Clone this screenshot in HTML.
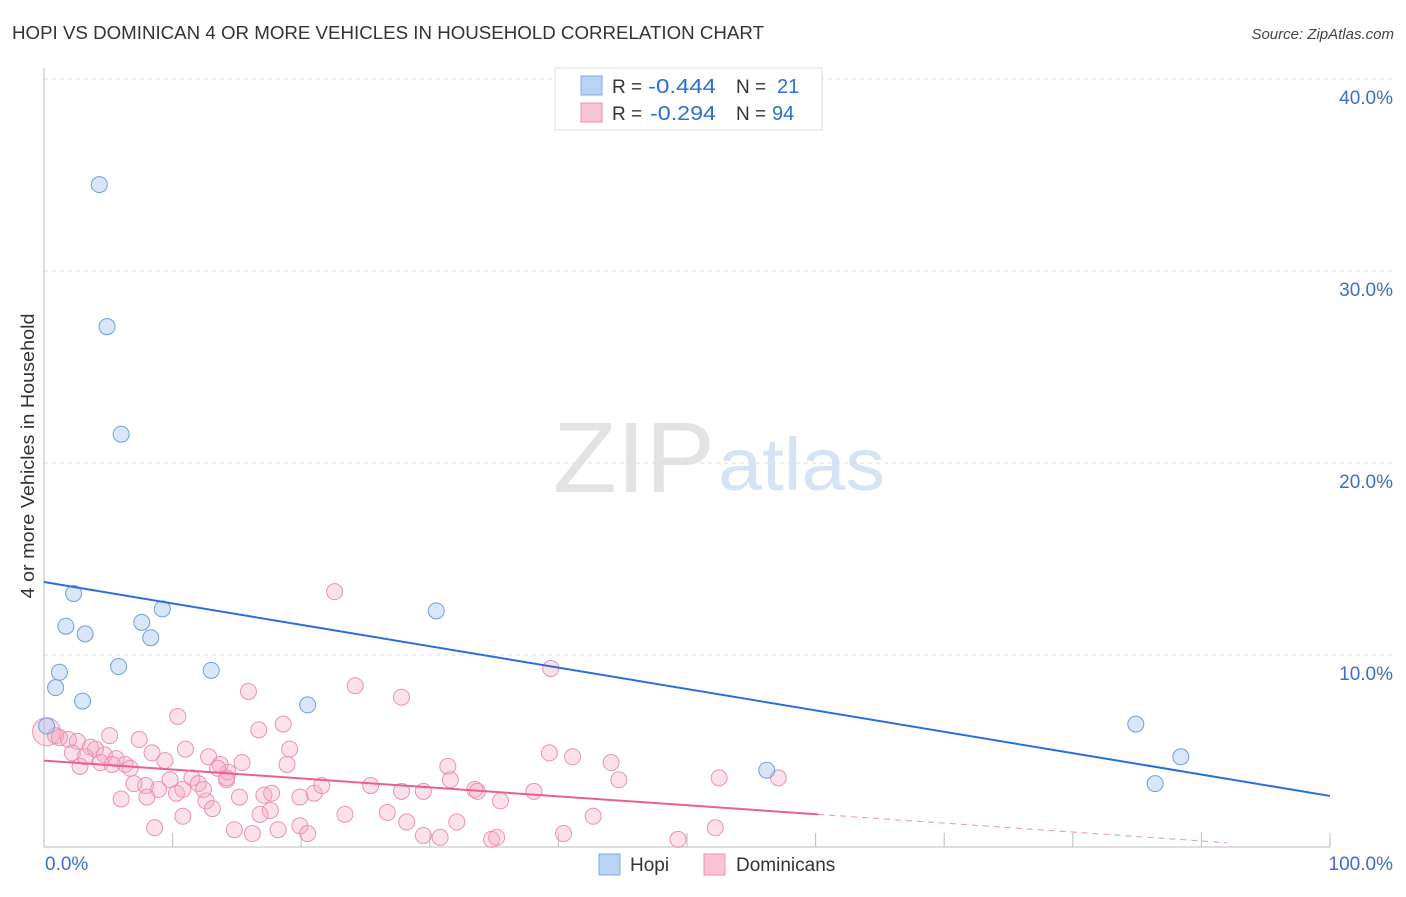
<!DOCTYPE html>
<html><head><meta charset="utf-8">
<style>
body{margin:0;background:#fff;font-family:"Liberation Sans",sans-serif;}
svg text{font-family:"Liberation Sans",sans-serif;}
</style></head>
<body>
<svg id="chart" width="1406" height="892" viewBox="0 0 1406 892" xmlns="http://www.w3.org/2000/svg">
<text x="12" y="39" font-size="18" fill="#333" textLength="752" lengthAdjust="spacingAndGlyphs">HOPI VS DOMINICAN 4 OR MORE VEHICLES IN HOUSEHOLD CORRELATION CHART</text>
<text x="1394" y="39" font-size="15" fill="#444" text-anchor="end" font-style="italic">Source: ZipAtlas.com</text>
<g>
<text x="553" y="492" font-size="100" fill="#e3e3e3" font-family="Liberation Serif, serif" textLength="162" lengthAdjust="spacingAndGlyphs">ZIP</text>
<text x="718" y="490" font-size="74" fill="#d6e3f5" textLength="167" lengthAdjust="spacingAndGlyphs">atlas</text>
</g>
<g id="grid"></g>
<g id="axes"></g>
<g id="marks"></g>
<text transform="translate(34,456) rotate(-90)" font-size="18" fill="#333" text-anchor="middle" textLength="285" lengthAdjust="spacingAndGlyphs">4 or more Vehicles in Household</text>
<g>
<rect x="555" y="68" width="267" height="62" fill="#fff" stroke="#ddd"/>
<rect x="581" y="76" width="21" height="19" fill="#b9d3f5" stroke="#7fa9e0"/>
<text x="612" y="93" font-size="19" fill="#333">R =</text>
<text x="648" y="93" font-size="20" fill="#2a6fd6" textLength="68" lengthAdjust="spacingAndGlyphs">-0.444</text>
<text x="736" y="93" font-size="19" fill="#333">N =</text>
<text x="777" y="93" font-size="20" fill="#2a6fd6">21</text>
<rect x="581" y="103" width="21" height="19" fill="#f9c4d5" stroke="#eb93b0"/>
<text x="612" y="120" font-size="19" fill="#333">R =</text>
<text x="650" y="120" font-size="20" fill="#2a6fd6" textLength="66" lengthAdjust="spacingAndGlyphs">-0.294</text>
<text x="736" y="120" font-size="19" fill="#333">N =</text>
<text x="772" y="120" font-size="20" fill="#2a6fd6">94</text>
</g>
<g>
<rect x="599" y="854" width="21" height="21" fill="#b9d3f5" stroke="#7fa9e0"/>
<text x="630" y="871" font-size="19" fill="#333">Hopi</text>
<rect x="704" y="854" width="21" height="21" fill="#f9c4d5" stroke="#eb93b0"/>
<text x="736" y="871" font-size="19" fill="#333">Dominicans</text>
</g>
</svg>
<script>
const yTicks=[10,20,30,40];
const yTickLabels=["10.0%","20.0%","30.0%","40.0%"];
const xTickLabels=["0.0%","100.0%"];
const hopiX=[4.3,4.9,6.0,2.3,1.7,3.2,9.2,7.6,8.3,5.8,1.2,0.9,3.0,13.0,20.5,30.5,0.2,56.2,84.9,88.4,86.4];
const hopiY=[34.5,27.1,21.5,13.2,11.5,11.1,12.4,11.7,10.9,9.4,9.1,8.3,7.6,9.2,7.4,12.3,6.3,4.0,6.4,4.7,3.3];
const domX=[22.6,39.4,24.2,15.9,27.8,10.4,18.6,16.7,5.1,7.4,0.2,0.9,1.2,1.9,2.6,3.6,4.0,4.7,5.6,6.3,6.7,8.4,9.4,11.0,12.8,13.7,15.4,19.1,18.9,39.3,41.1,44.1,31.4,31.6,44.7,52.5,57.1,2.8,4.4,7.9,7.0,8.9,9.8,11.5,12.0,14.3,14.2,13.5,10.3,12.6,13.1,15.2,17.1,17.7,17.6,21.0,21.6,25.4,27.8,29.5,33.5,33.7,35.5,38.1,6.0,8.0,10.8,8.6,14.8,16.2,18.2,19.9,20.5,23.4,26.7,28.2,29.5,30.8,32.1,34.8,35.2,40.4,42.7,49.3,52.2,14.2,19.9,16.8,5.3,3.2,2.2,12.4,10.8];
const domY=[13.3,9.3,8.4,8.1,7.8,6.8,6.4,6.1,5.8,5.6,6.0,5.8,5.7,5.6,5.5,5.2,5.1,4.8,4.6,4.3,4.1,4.9,4.5,5.1,4.7,4.3,4.4,5.1,4.3,4.9,4.7,4.4,4.2,3.5,3.5,3.6,3.6,4.2,4.4,3.2,3.3,3.0,3.5,3.6,3.3,3.9,3.5,4.1,2.8,2.4,2.0,2.6,2.7,2.8,1.9,2.8,3.2,3.2,2.9,2.9,3.0,2.9,2.4,2.9,2.5,2.6,1.6,1.0,0.9,0.7,0.9,1.1,0.7,1.7,1.8,1.3,0.6,0.5,1.3,0.4,0.5,0.7,1.6,0.4,1.0,3.6,2.6,1.7,4.3,4.7,4.9,3.0,3.0];
const hopiLine=[13.8,2.66];
const domLine=[4.5,1.7,60.2,-0.15];

const NS="http://www.w3.org/2000/svg";
const X0=44,X1=1330,Y0=847,PY=19.2;
const xs=v=>X0+(X1-X0)*v/100;
const ys=v=>Y0-v*PY;
function mk(tag,attrs,parent){const e=document.createElementNS(NS,tag);for(const k in attrs)e.setAttribute(k,attrs[k]);parent.appendChild(e);return e;}
const grid=document.getElementById('grid'),axes=document.getElementById('axes'),marks=document.getElementById('marks');
yTicks.forEach((t,i)=>{
  const l=mk('line',{x1:44,x2:1392,y1:ys(t),y2:ys(t),stroke:'#ddd','stroke-dasharray':'4,4'},grid);
  
  
  const tx=mk('text',{x:1393,y:ys(t)+25,'font-size':19,fill:'#3a6fcc','text-anchor':'end'},axes);
  tx.textContent=yTickLabels[i];
  
  
});
const ax=mk('line',{x1:44,x2:44,y1:68,y2:847,stroke:'#bbb'},axes);


const bx=mk('line',{x1:44,x2:1330,y1:847,y2:847,stroke:'#bbb'},axes);


for(let i=0;i<=10;i++){
  const t=mk('line',{x1:xs(i*10),x2:xs(i*10),y1:833,y2:847,stroke:'#bbb'},axes);
  
  
}
[[0,'start',45],[100,'end',1393]].forEach((d,i)=>{
  const t=mk('text',{x:d[2],y:870,'font-size':19,fill:'#3a6fcc','text-anchor':d[1]},axes);
  t.textContent=xTickLabels[i];
  
  
});
domX.forEach((v,i)=>{
  const c=mk('circle',{cx:xs(v),cy:ys(domY[i]),r:i==10?14:8,fill:'rgba(245,170,195,0.35)',stroke:'#eb93b0','stroke-width':1},marks);
  
  
});
hopiX.forEach((v,i)=>{
  const c=mk('circle',{cx:xs(v),cy:ys(hopiY[i]),r:8,fill:'rgba(169,200,240,0.45)',stroke:'#6f9fd8','stroke-width':1},marks);
  
  
});
const hl=mk('line',{x1:xs(0),y1:ys(hopiLine[0]),x2:xs(100),y2:ys(hopiLine[1]),stroke:'#2a6fd6','stroke-width':2},marks);


const dl=mk('line',{x1:xs(0),y1:ys(domLine[0]),x2:xs(domLine[2]),y2:ys(domLine[1]),stroke:'#e8608e','stroke-width':2},marks);


const dd=mk('line',{x1:xs(domLine[2]),y1:ys(domLine[1]),x2:xs(92),y2:ys(domLine[0]+(domLine[1]-domLine[0])*92/domLine[2]),stroke:'#eb93b0','stroke-width':1,'stroke-dasharray':'6,5'},marks);


</script>
</body></html>
